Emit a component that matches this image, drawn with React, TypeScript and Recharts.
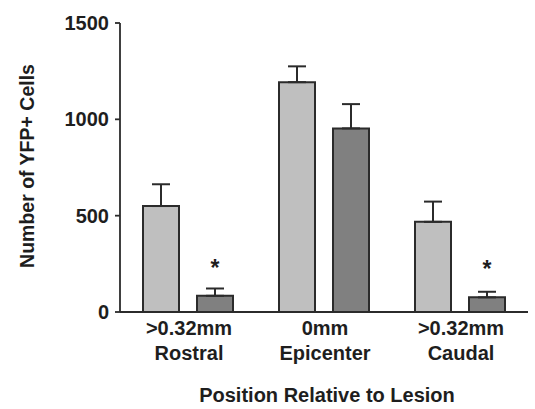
import { BarChart, Bar, XAxis, YAxis, ErrorBar, LabelList, Label } from 'recharts'

const distances = ['>0.32mm', '0mm', '>0.32mm']
const regions = ['Rostral', 'Epicenter', 'Caudal']
const controlCells = [550, 1193, 468]
const controlSem = [113, 82, 105]
const treatedCells = [84, 953, 76]
const treatedSem = [38, 126, 29]
const significant = [true, false, true]
const yTicks = [0, 500, 1000, 1500]

const FONT = '"Liberation Sans", Arial, sans-serif'
const INK = '#2b2b2b'

const data = regions.map((r, i) => ({
  name: r,
  distance: distances[i],
  control: controlCells[i],
  controlErr: [0, controlSem[i]],
  treated: treatedCells[i],
  treatedErr: [0, treatedSem[i]],
  sig: significant[i],
}))

// two-line category label
function CategoryTick(props: any) {
  const { x, y, payload, index } = props
  return (
    <g>
      <text x={x + 1} y={y + 15} textAnchor="middle" fontFamily={FONT} fontWeight="bold" fontSize={20} fill="#1e1e1e">
        {distances[index]}
      </text>
      <text x={x + 1} y={y + 40} textAnchor="middle" fontFamily={FONT} fontWeight="bold" fontSize={20} fill="#1e1e1e">
        {payload.value}
      </text>
    </g>
  )
}

function Star(props: any) {
  const { x, y, width, index } = props
  if (!significant[index]) return null
  return (
    <text x={x + width / 2} y={y - 20} textAnchor="middle" fontFamily={FONT} fontWeight="bold" fontSize={23} fill="#1e1e1e">
      *
    </text>
  )
}

export default function App() {
  return (
    <div style={{ position: 'absolute', left: 0, top: 0, background: '#fff' }}>
      <BarChart
        width={535}
        height={409}
        data={data}
        margin={{ top: 23, right: 7, bottom: 37, left: 0 }}
        barSize={36}
        barGap={18}
      >
        <XAxis
          dataKey="name"
          height={60}
          tickLine={false}
          axisLine={{ stroke: INK, strokeWidth: 1.8 }}
          tick={<CategoryTick />}
          interval={0}
        >
          <Label
            content={(p: any) => {
              const vb = p.viewBox
              return (
                <text x={vb.x + vb.width / 2 + 3} y={402} textAnchor="middle" fontFamily={FONT} fontWeight="bold" fontSize={20} fill="#1e1e1e">
                  Position Relative to Lesion
                </text>
              )
            }}
          />
        </XAxis>
        <YAxis
          width={120}
          domain={[0, 1500]}
          ticks={yTicks}
          tickSize={5}
          tickMargin={6}
          axisLine={{ stroke: INK, strokeWidth: 1.8 }}
          tickLine={{ stroke: INK, strokeWidth: 1.8 }}
          tick={{ fontFamily: FONT, fontWeight: 'bold', fontSize: 20, fill: '#1e1e1e' }}
        >
          <Label
            content={() => (
              <text
                x={27}
                y={166}
                transform="rotate(-90 27 166)"
                textAnchor="middle"
                dominantBaseline="central"
                fontFamily={FONT}
                fontWeight="bold"
                fontSize={19.5}
                fill="#1e1e1e"
              >
                Number of YFP+ Cells
              </text>
            )}
          />
        </YAxis>
        <Bar dataKey="control" fill="#bfbfbf" stroke={INK} strokeWidth={2} isAnimationActive={false}>
          <ErrorBar dataKey="controlErr" width={9} stroke={INK} strokeWidth={2} isAnimationActive={false} />
        </Bar>
        <Bar dataKey="treated" fill="#808080" stroke={INK} strokeWidth={2} isAnimationActive={false}>
          <ErrorBar dataKey="treatedErr" width={9} stroke={INK} strokeWidth={2} isAnimationActive={false} />
          <LabelList dataKey="treated" content={<Star />} />
        </Bar>
      </BarChart>
    </div>
  )
}
